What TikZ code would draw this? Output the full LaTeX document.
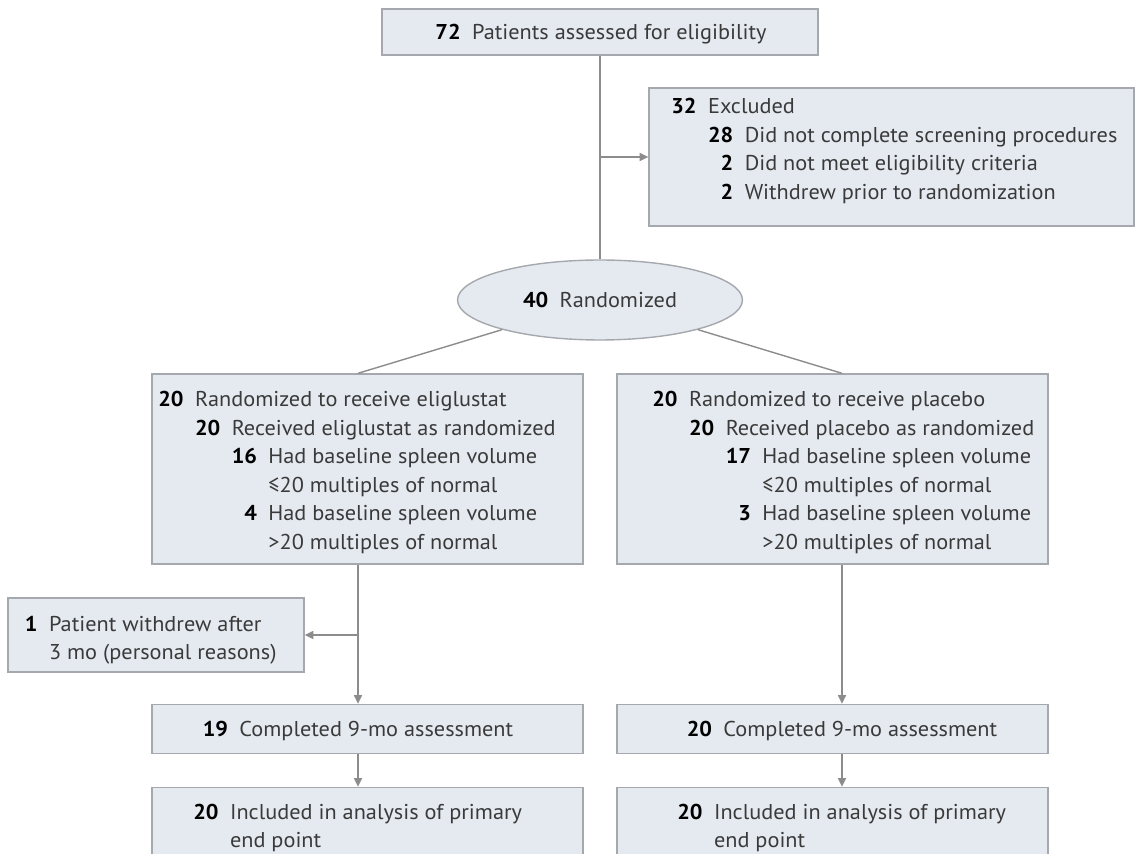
\documentclass[tikz,border=0pt]{standalone}
\usepackage{fontspec}
\setmainfont{PT Sans}[FakeStretch=1.04]
\usetikzlibrary{arrows.meta,shapes.geometric}

\definecolor{boxfill}{RGB}{229,234,240}
\definecolor{boxline}{RGB}{165,169,174}
\definecolor{linkgray}{RGB}{140,140,140}
\definecolor{txtgray}{RGB}{58,58,58}

\newcommand\flowfont{\fontsize{12.2}{16.2}\selectfont}
\newlength\numw
\newlength\numgap
\setlength\numgap{6.5pt}
\AtBeginDocument{\settowidth{\numw}{\flowfont\bfseries 20}}

% one counted line: level, number, text
\newcommand\rowentry[3]{\hspace*{\dimexpr #1\numw+#1\numgap\relax}%
  \makebox[\numw][r]{\bfseries\color{black}#2}\hspace{\numgap}#3}
% continuation line under the text of a counted line at the given level
\newcommand\contentry[2]{\hspace*{\dimexpr #1\numw+#1\numgap+\numw+\numgap\relax}#2}
\newcommand\num[1]{{\bfseries\color{black}#1}}

\tikzset{
  flowbox/.style={draw=boxline, fill=boxfill, line width=0.8pt, inner sep=0pt,
    font=\flowfont, text=txtgray},
  flowtext/.style={inner sep=0pt, font=\flowfont, text=txtgray},
  link/.style={draw=linkgray, line width=0.8pt},
  arrowlink/.style={link, -{Triangle[length=5pt,width=4.6pt]}},
}

\begin{document}
\begin{tikzpicture}[x=0.02cm, y=-0.02cm]
\useasboundingbox (0,0) rectangle (1136,854);

% boxes
\node[flowbox, minimum width=8.72cm, minimum height=0.92cm] (top) at (600,32) {};
\node[flowbox, minimum width=9.70cm, minimum height=2.76cm] (excl) at (891.5,157) {};
\node[flowbox, ellipse, minimum width=5.70cm, minimum height=1.60cm] (rand) at (600,300)
  {\num{40}\hspace{\numgap}Randomized};
\node[flowbox, minimum width=8.62cm, minimum height=3.80cm] (lbox) at (367.5,469) {};
\node[flowbox, minimum width=8.62cm, minimum height=3.80cm] (rbox) at (832.5,469) {};
\node[flowbox, minimum width=5.92cm, minimum height=1.48cm] (wd) at (156,635) {};
\node[flowbox, minimum width=8.62cm, minimum height=0.98cm] (lcomp) at (367.5,729) {};
\node[flowbox, minimum width=8.62cm, minimum height=0.98cm] (rcomp) at (832.5,729) {};
\node[flowbox, minimum width=8.62cm, minimum height=1.70cm] (linc) at (367.5,830) {};
\node[flowbox, minimum width=8.62cm, minimum height=1.70cm] (rinc) at (832.5,830) {};

% box texts
\node[flowtext, anchor=base] (toptext) at (601,40)
  {\num{72}\hspace{\numgap}Patients assessed for eligibility};

\node[flowtext, anchor=base west] (excltext) at (671,114) {\begin{tabular}[t]{@{}l@{}}
  \rowentry{0}{32}{Excluded}\\
  \rowentry{1}{28}{Did not complete screening procedures}\\
  \rowentry{1}{2}{Did not meet eligibility criteria}\\
  \rowentry{1}{2}{Withdrew prior to randomization}
\end{tabular}};

\node[flowtext, anchor=base west] (lboxtext) at (158,407) {\begin{tabular}[t]{@{}l@{}}
  \rowentry{0}{20}{Randomized to receive eliglustat}\\
  \rowentry{1}{20}{Received eliglustat as randomized}\\
  \rowentry{2}{16}{Had baseline spleen volume}\\
  \contentry{2}{≤20 multiples of normal}\\
  \rowentry{2}{4}{Had baseline spleen volume}\\
  \contentry{2}{>20 multiples of normal}
\end{tabular}};

\node[flowtext, anchor=base west] (rboxtext) at (652,407) {\begin{tabular}[t]{@{}l@{}}
  \rowentry{0}{20}{Randomized to receive placebo}\\
  \rowentry{1}{20}{Received placebo as randomized}\\
  \rowentry{2}{17}{Had baseline spleen volume}\\
  \contentry{2}{≤20 multiples of normal}\\
  \rowentry{2}{3}{Had baseline spleen volume}\\
  \contentry{2}{>20 multiples of normal}
\end{tabular}};

\node[flowtext, anchor=base west] (wdtext) at (12,631) {\begin{tabular}[t]{@{}l@{}}
  \rowentry{0}{1}{Patient withdrew after}\\
  \contentry{0}{3 mo (personal reasons)}
\end{tabular}};

\node[flowtext, anchor=base] (lcomptext) at (358,736)
  {\num{19}\hspace{\numgap}Completed 9-mo assessment};
\node[flowtext, anchor=base] (rcomptext) at (842,736)
  {\num{20}\hspace{\numgap}Completed 9-mo assessment};

\node[flowtext, anchor=base west] (linctext) at (193,819) {\begin{tabular}[t]{@{}l@{}}
  \rowentry{0}{20}{Included in analysis of primary}\\
  \contentry{0}{end point}
\end{tabular}};

\node[flowtext, anchor=base west] (rinctext) at (677,819) {\begin{tabular}[t]{@{}l@{}}
  \rowentry{0}{20}{Included in analysis of primary}\\
  \contentry{0}{end point}
\end{tabular}};

% connector columns
\coordinate (lx) at (358,0);
\coordinate (rx) at (842,0);

% connectors
\draw[link] (top) -- (rand);
\draw[arrowlink] (excl.west -| rand) -- (excl.west);
\draw[link] (rand) -- (lbox.north -| lx);
\draw[link] (rand) -- (rbox.north -| rx);
\draw[arrowlink] (lbox.south -| lx) -- (lcomp.north -| lx);
\draw[arrowlink] (wd.east -| lx) -- (wd.east);
\draw[arrowlink] (rbox.south -| rx) -- (rcomp.north -| rx);
\draw[arrowlink] (lcomp.south -| lx) -- (linc.north -| lx);
\draw[arrowlink] (rcomp.south -| rx) -- (rinc.north -| rx);
\end{tikzpicture}
\end{document}
